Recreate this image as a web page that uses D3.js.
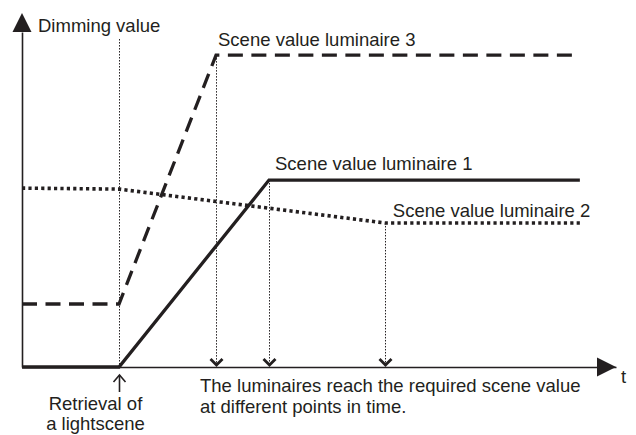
<!DOCTYPE html>
<html><head><meta charset="utf-8">
<script src="https://cdn.jsdelivr.net/npm/d3@7"></script>
<style>html,body{margin:0;padding:0;background:#fff;}svg{display:block;}</style>
</head><body>
<script>
// ---- data ----
const timeDomain = [0, 12];
const valueDomain = [0, 100];
const retrievalTime = 1.96;
const lum1Time = [0, 1.96, 4.99, 11.27];
const lum1Value = [0, 0, 55.8, 55.8];
const lum2Time = [0, 1.96, 7.33, 11.27];
const lum2Value = [53.4, 53.1, 43.0, 43.0];
const lum3Time = [0, 1.96, 3.92, 11.27];
const lum3Value = [18.8, 18.8, 93.1, 93.1];
const reachTimes = [3.92, 4.99, 7.33];
const reachValues = [93.1, 55.8, 43.0];
const seriesLabels = ["Scene value luminaire 1", "Scene value luminaire 2", "Scene value luminaire 3"];
const yAxisLabel = "Dimming value";
const xAxisLabel = "t";
const retrievalLabel = ["Retrieval of", "a lightscene"];
const noteLabel = ["The luminaires reach the required scene value", "at different points in time."];

// ---- chart ----
const W = 636, H = 435, ink = "#231f20";
const FONT = "'Liberation Sans', Arial, Helvetica, sans-serif";
const svg = d3.select("body").append("svg").attr("width", W).attr("height", H);
const x = d3.scaleLinear().domain(timeDomain).range([22, 616]);
const y = d3.scaleLinear().domain(valueDomain).range([367, 32]);
const zip = (t, v) => t.map((d, i) => [d, v[i]]);
const line = d3.line().x(d => x(d[0])).y(d => y(d[1]));
const snap = v => Math.round(v) + 0.5;

// dotted guide lines
svg.append("line").attr("x1", snap(x(retrievalTime))).attr("x2", snap(x(retrievalTime)))
  .attr("y1", y(97.9)).attr("y2", y(0))
  .attr("stroke", ink).attr("stroke-width", 1).attr("stroke-dasharray", "1.5,1.5");
reachTimes.forEach((t, i) => {
  const sx = snap(x(t));
  svg.append("line").attr("x1", sx).attr("x2", sx)
    .attr("y1", y(reachValues[i])).attr("y2", y(0) - 2)
    .attr("stroke", ink).attr("stroke-width", 1).attr("stroke-dasharray", "1.5,1.5");
  svg.append("polyline")
    .attr("points", `${sx-6},${y(0)-8} ${sx},${y(0)-2} ${sx+6},${y(0)-8}`)
    .attr("fill", "none").attr("stroke", ink).attr("stroke-width", 2.8);
});

// axes
const gx = svg.append("g").attr("transform", `translate(0,${y(0)})`)
  .call(d3.axisBottom(x).tickValues([]).tickSizeOuter(0));
const gy = svg.append("g").attr("transform", `translate(${x(0)},0)`)
  .call(d3.axisLeft(y).tickValues([]).tickSizeOuter(0));
[gx, gy].forEach(g => g.select(".domain").attr("stroke", ink).attr("stroke-width", 1.6));
// arrowheads
svg.append("path").attr("d", `M${x(12)-19},${y(0)-9.5} L${x(12)},${y(0)} L${x(12)-19},${y(0)+9.5} Z`).attr("fill", ink);
svg.append("path").attr("d", `M${x(0)-9.5},${y(100)} L${x(0)},${y(100)-19} L${x(0)+9.5},${y(100)} Z`).attr("fill", ink);

// series
svg.append("path").datum(zip(lum2Time, lum2Value)).attr("d", line)
  .attr("fill", "none").attr("stroke", ink).attr("stroke-width", 3.6).attr("stroke-dasharray", "3.2,3.2");
svg.append("path").datum(zip(lum3Time, lum3Value)).attr("d", line)
  .attr("fill", "none").attr("stroke", ink).attr("stroke-width", 3.3).attr("stroke-dasharray", "15,8.5");
svg.append("path").datum(zip(lum1Time, lum1Value)).attr("d", line)
  .attr("fill", "none").attr("stroke", ink).attr("stroke-width", 3.3).attr("stroke-linejoin", "miter");

// retrieval arrow
const rx = snap(x(retrievalTime));
svg.append("line").attr("x1", rx).attr("x2", rx).attr("y1", y(0)+8).attr("y2", y(0)+25)
  .attr("stroke", ink).attr("stroke-width", 1.6);
svg.append("polyline").attr("points", `${rx-6},${y(0)+15} ${rx},${y(0)+8} ${rx+6},${y(0)+15}`)
  .attr("fill", "none").attr("stroke", ink).attr("stroke-width", 1.6);

// texts
const txt = (s, tx, ty, anchor) => svg.append("text").attr("x", tx).attr("y", ty)
  .attr("text-anchor", anchor || "start").attr("font-family", FONT).attr("font-size", 18.5)
  .attr("fill", ink).text(s);
txt(yAxisLabel, x(0) + 16, 32);
txt(xAxisLabel, x(12) + 5, 383);
txt(seriesLabels[0], x(lum1Time[2]) + 6, y(lum1Value[2]) - 10);
txt(seriesLabels[1], x(lum2Time[2]) + 8, y(lum2Value[2]) - 6);
txt(seriesLabels[2], x(lum3Time[2]) + 2, y(lum3Value[2]) - 9);
txt(noteLabel[0], 200, 392);
txt(noteLabel[1], 200, 413);
txt(retrievalLabel[0], rx - 24, 410, "middle");
txt(retrievalLabel[1], rx - 24, 430, "middle");
</script>
</body></html>
